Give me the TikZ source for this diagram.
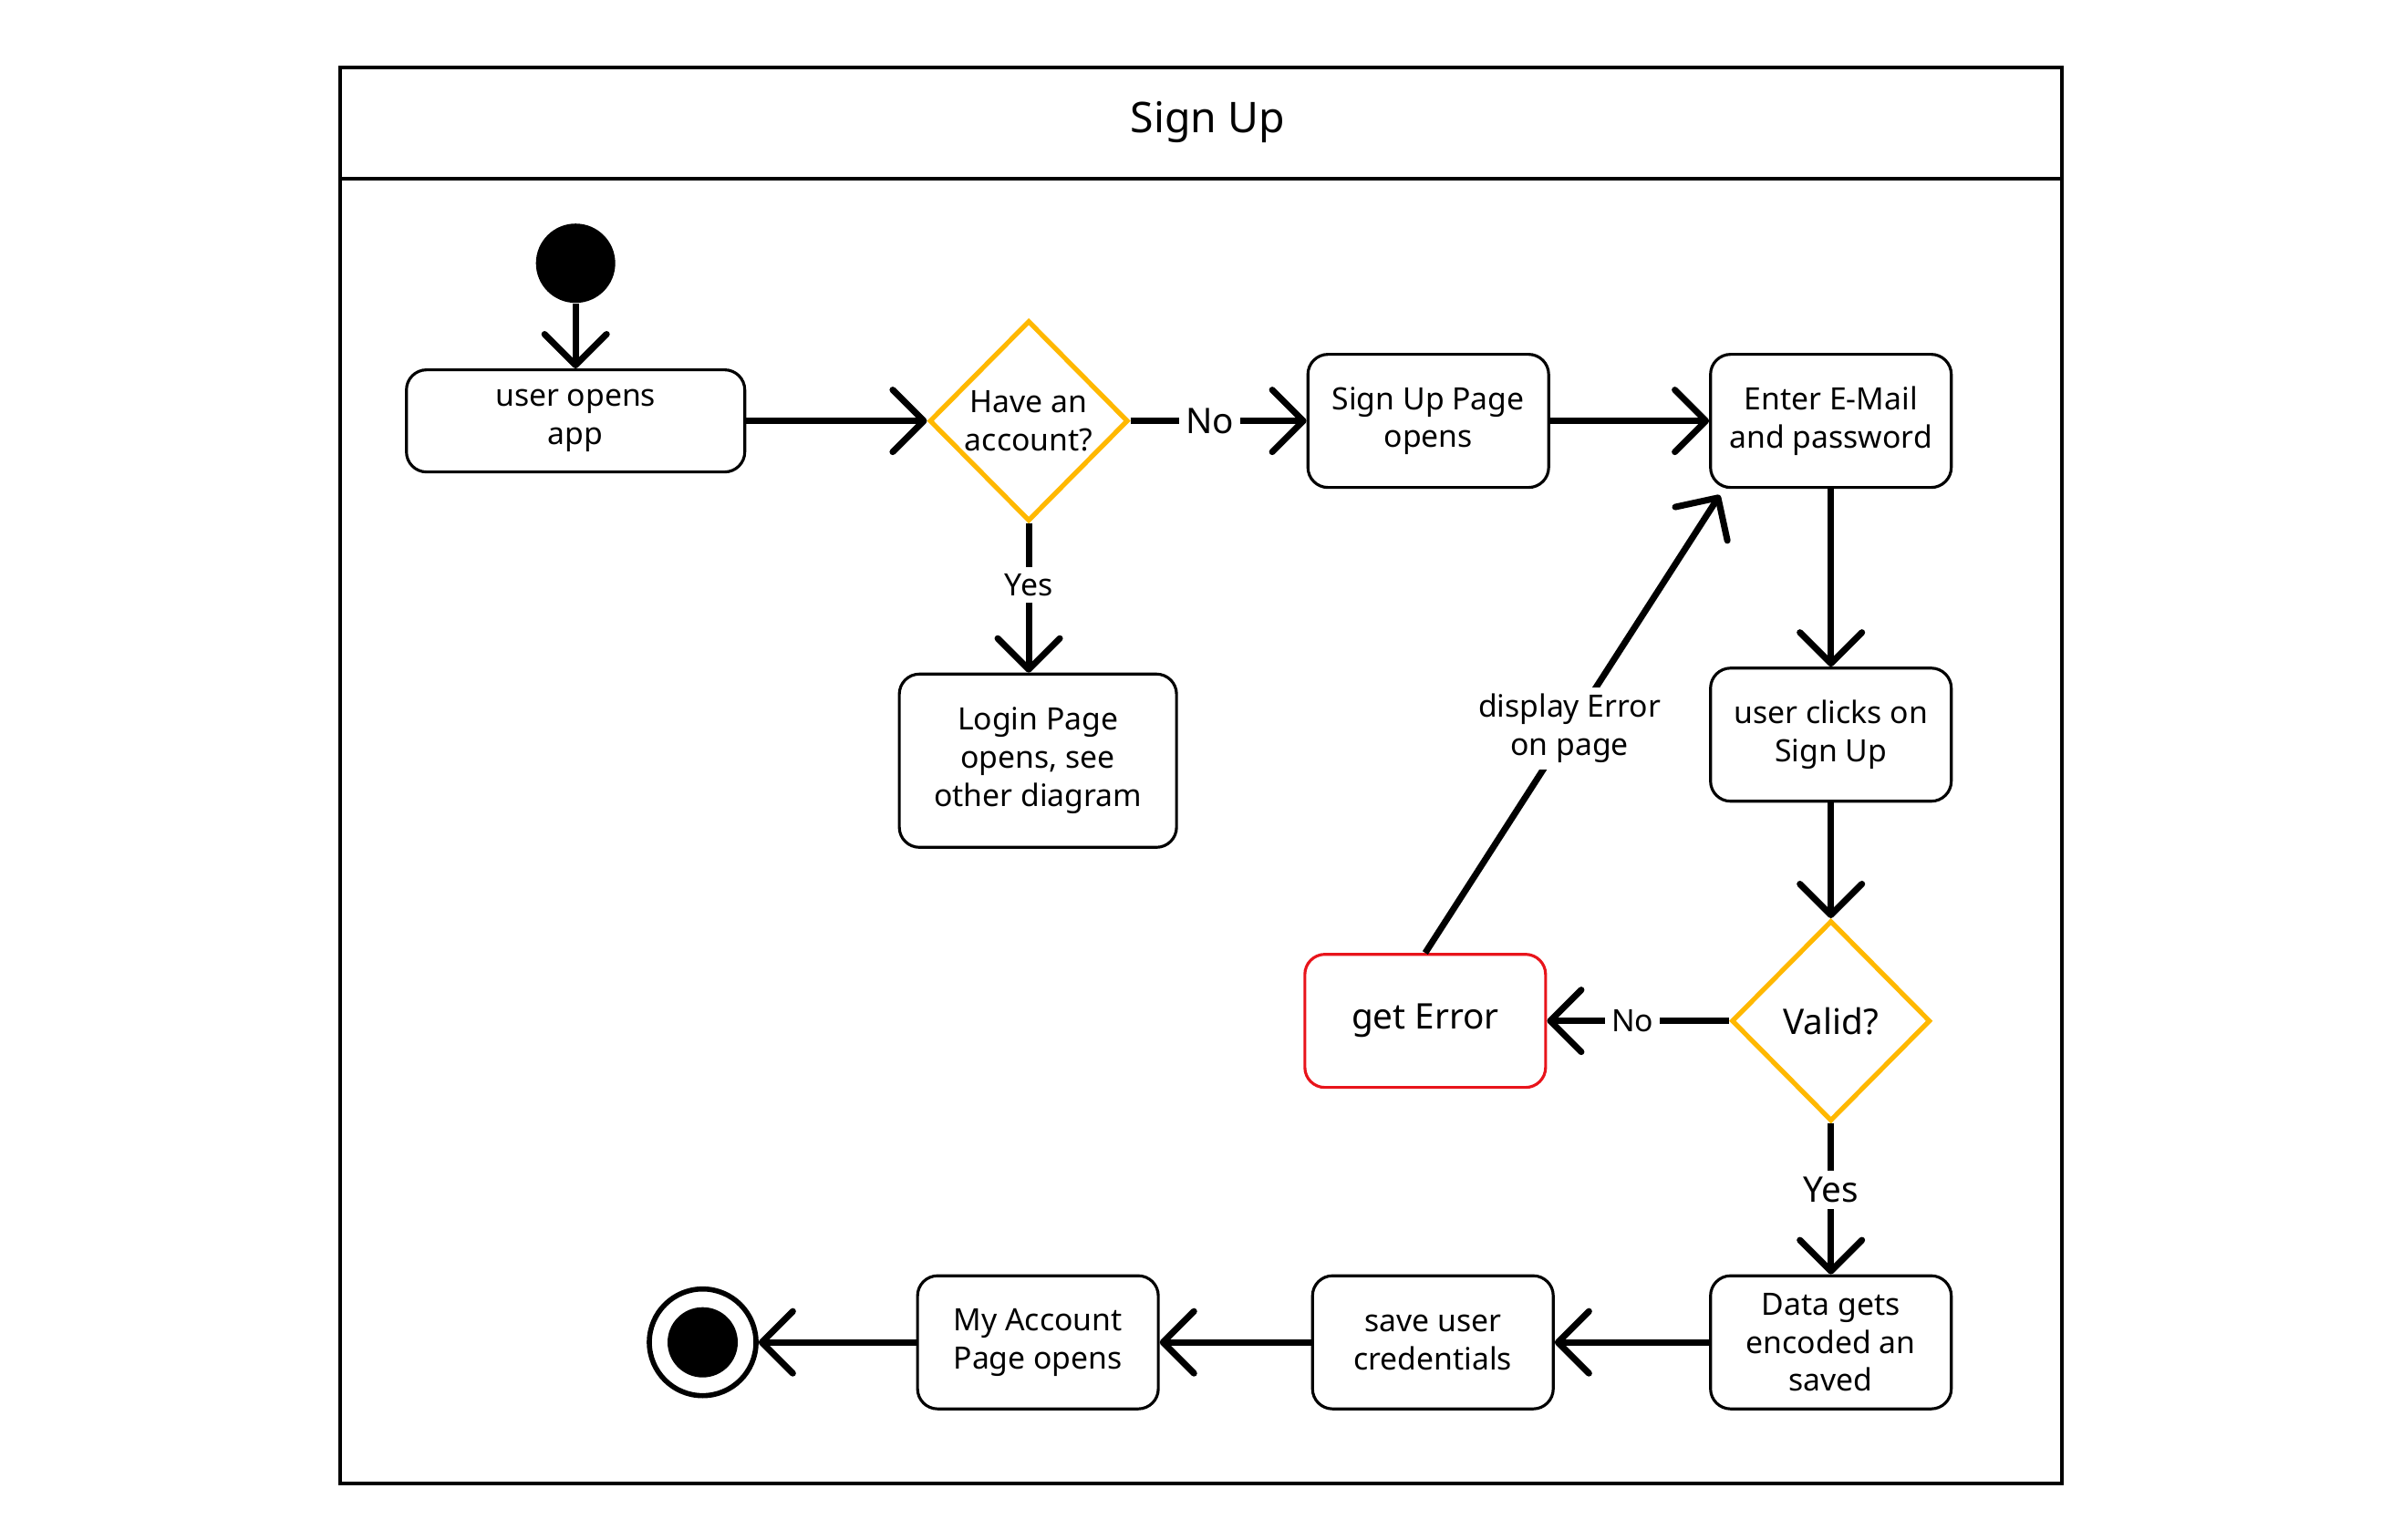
\documentclass[tikz,border=0pt]{standalone}
\usepackage{fontspec}
\setmainfont{Noto Sans}
\usepackage{tikz}
\usetikzlibrary{arrows.meta,shapes.geometric,positioning}
\definecolor{decisionyellow}{HTML}{FFB800}
\definecolor{errorred}{HTML}{E8141B}

\begin{document}
\begin{tikzpicture}[x=0.16787mm,y=-0.16787mm,>={Straight Barb[length=3.4mm,width=6.8mm,round]},
		font=\fontsize{9.6}{11.9}\selectfont,align=center,
		activity/.style={draw,rounded corners=0.22cm,line width=0.9pt,minimum width=2.64cm,minimum height=1.46cm,inner sep=2pt},
		decision/.style={diamond,draw=decisionyellow,line width=1.5pt,minimum width=2.18cm,minimum height=2.2cm,inner sep=0pt},
		bigtext/.style={font=\fontsize{11}{13.5}\selectfont},
		flow/.style={line width=2pt},
		guard/.style={fill=white,inner sep=2pt},
		initialdot/.style={circle,fill,minimum size=0.87cm,inner sep=0pt},
		finaldot/.style={circle,draw,line width=1.6pt,minimum size=1.17cm,inner sep=0pt,
			path picture={\fill (path picture bounding box.center) circle (0.385cm);}}]
		\useasboundingbox (0,0) rectangle (1556,1006.1);
		\draw[line width=1.1pt] (222,44) rectangle (1347,969);
		\draw[line width=1.1pt] (222,117) -- (1347,117);
		\node[font=\fontsize{13.2}{16}\selectfont] (title) at (789,80) {Sign Up};
		\node[initialdot] (s_0) at (376,172) {};
		\node[activity,minimum width=3.71cm,minimum height=1.12cm] (a_1) at (376,275) {user opens\\app};
		\node[decision] (d_1) at (672,275) {Have an\\account?};
		\node[activity] (a_2) at (933,275) {Sign Up Page\\opens};
		\node[activity] (a_3) at (1196,275) {Enter E-Mail\\and password};
		\node[activity,minimum width=3.04cm,minimum height=1.9cm] (a_4) at (678,497) {Login Page\\opens, see\\other diagram};
		\node[activity] (a_5) at (1196,480) {user clicks on\\Sign Up};
		\node[decision,bigtext] (d_2) at (1196,667) {Valid?};
		\node[activity,draw=errorred,bigtext] (a_6) at (931,667) {get Error};
		\node[activity] (a_7) at (1196,877) {Data gets\\encoded an\\saved};
		\node[activity] (a_8) at (936,877) {save user\\credentials};
		\node[activity] (a_9) at (678,877) {My Account\\Page opens};
		\node[finaldot] (f_0) at (459,877) {};
		\path[->,flow]
			(s_0) edge (a_1)
			(a_1) edge (d_1)
			(d_1) edge node[guard,bigtext,pos=0.45] {No} (a_2)
			(d_1) edge node[guard,pos=0.41] {Yes} (d_1 |- a_4.north)
			(a_2) edge (a_3)
			(a_3) edge (a_5)
			(a_5) edge (d_2)
			(d_2) edge node[guard,pos=0.53] {No} (a_6)
			(a_6.north) edge node[guard,pos=0.49] {display Error\\on page} ([shift={(7,4)}]a_3.south west)
			(d_2) edge node[guard,bigtext,pos=0.44] {Yes} (a_7)
			(a_7) edge (a_8)
			(a_8) edge (a_9)
			(a_9) edge (f_0);
	\end{tikzpicture}
\end{document}
